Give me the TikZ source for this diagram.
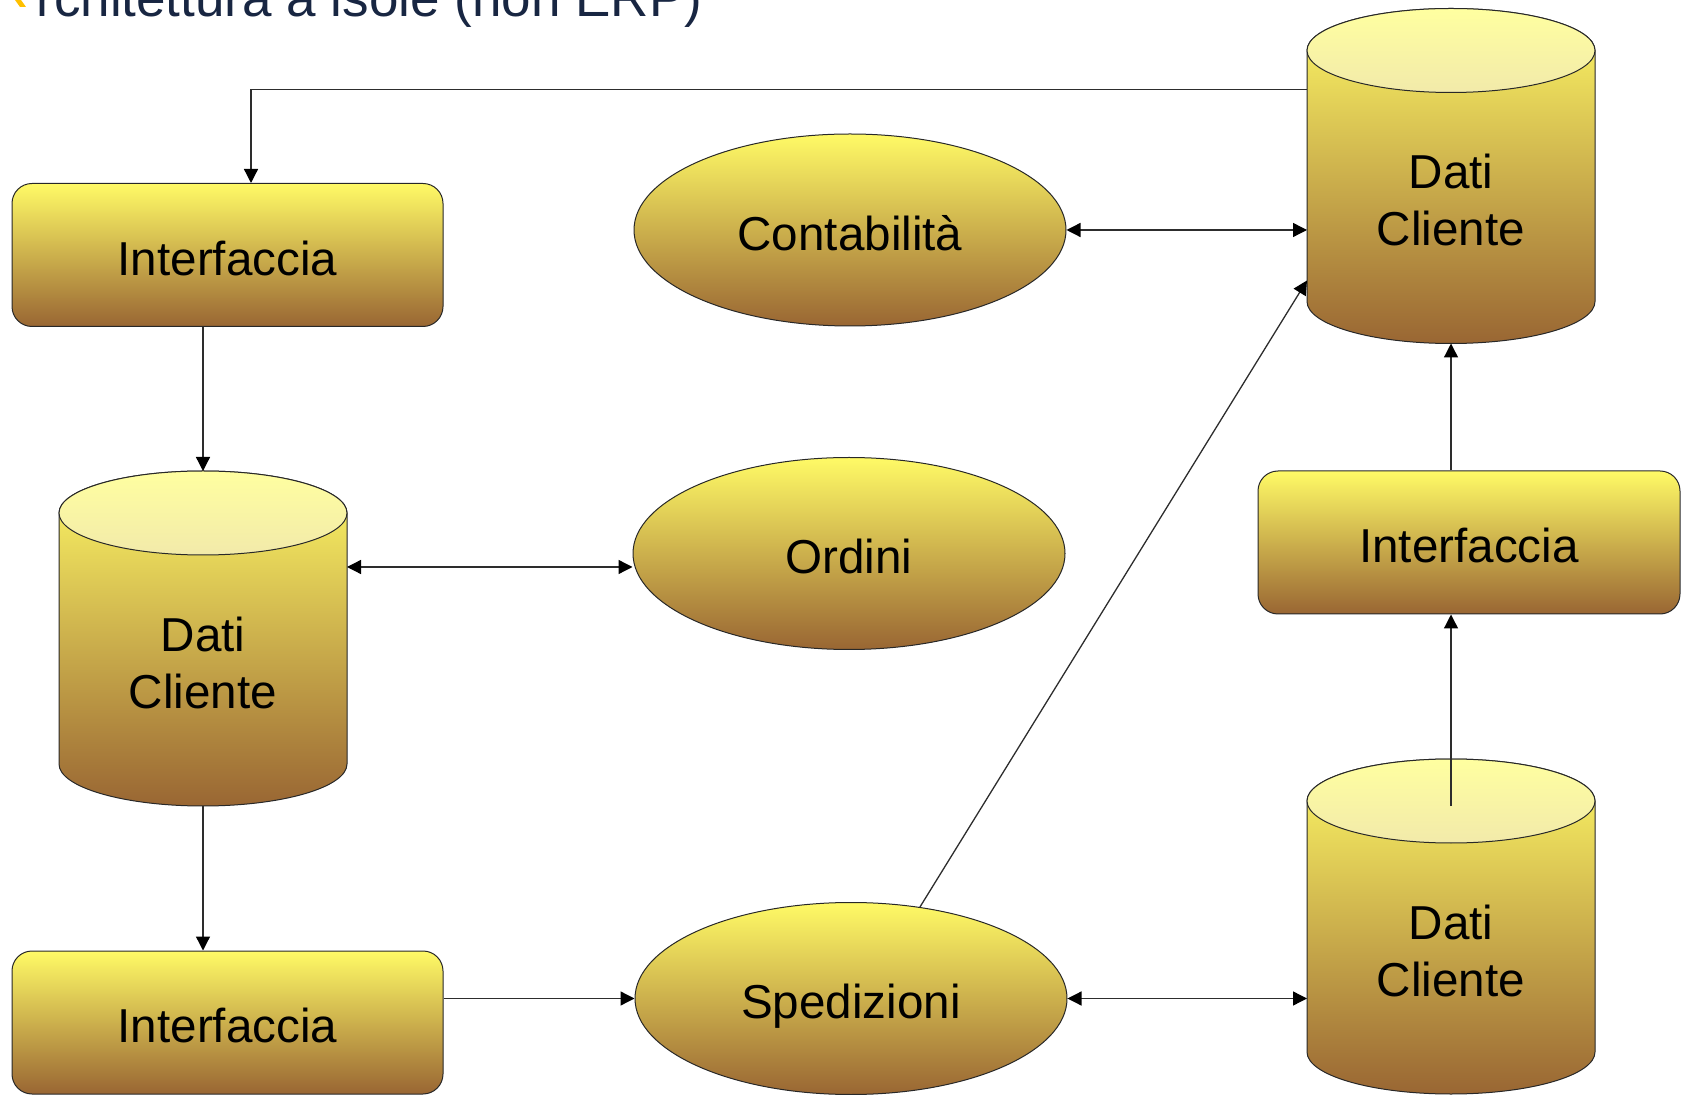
\documentclass[tikz,border=0pt]{standalone}
\usepackage{fontspec}
\setmainfont{Liberation Sans}
\usetikzlibrary{shapes.geometric,arrows.meta,calc}
\definecolor{ytop}{RGB}{255,250,102}
\definecolor{ybot}{RGB}{153,102,51}
\definecolor{lidtop}{RGB}{255,255,160}
\definecolor{lidbot}{RGB}{242,234,170}
\definecolor{edgecol}{RGB}{40,40,40}
\definecolor{linecol}{RGB}{45,45,45}
\definecolor{titlecol}{RGB}{24,38,66}
\definecolor{bulletcol}{RGB}{255,192,0}
\tikzset{
  lbl/.style={font=\fontsize{23.8}{28.5}\selectfont, text=black},
  ifbox/.style={lbl, text height=20.4pt, text depth=0pt, draw=edgecol, line width=0.5pt, rounded corners=10pt,
     top color=ytop, bottom color=ybot, inner sep=0pt, minimum height=71.5pt},
  proc/.style={lbl, text height=20.4pt, text depth=0pt, ellipse, draw=edgecol, line width=0.5pt, top color=ytop,
     bottom color=ybot, inner sep=0pt, minimum width=216pt, minimum height=96pt},
  conn/.style={draw=linecol, line width=0.65pt},
  tip/.tip={Triangle[length=7pt,width=7pt,color=black]}
}
\newcommand\dbcyl[4]{%
  \node[minimum width=144pt, minimum height=167.5pt, inner sep=0pt, outer sep=0pt] (#1) at (#2,#3) {};
  \shade[top color=ytop, bottom color=ybot, draw=edgecol, line width=0.5pt]
    ($(#1.north west)+(0,-42)$) -- ($(#1.south west)+(0,42)$)
    arc[start angle=180, end angle=360, x radius=144, y radius=42]
    -- ($(#1.north east)+(0,-42)$)
    arc[start angle=0, end angle=180, x radius=144, y radius=42] -- cycle;
  \shade[top color=lidtop, bottom color=lidbot, draw=edgecol, line width=0.5pt]
    ($(#1.north)+(0,-42)$) ellipse[x radius=144, y radius=42];
  \node[lbl, align=center] (#1t) at ($(#1.center)+(0,-24)$) {#4};
}
\begin{document}
\begin{tikzpicture}[x=0.5pt,y=0.5pt]
\useasboundingbox (0,0) rectangle (1681,-1095);
% title (cut at top, as in the reference)
\fill[bulletcol] (15,0) -- (21,0) -- (26,-7) -- (20,-7) -- cycle;
\node[anchor=base west, inner sep=0pt, font=\fontsize{26.5}{30}\selectfont, text=titlecol] (title) at (36,-17) {rchitettura a isole (non ERP)};

% interfaces
\node[ifbox, minimum width=215.5pt] (ifA) at (227.5,-255) {Interfaccia};
\node[ifbox, minimum width=215.5pt] (ifB) at (227.5,-1022.5) {Interfaccia};
\node[ifbox, minimum width=211pt] (ifC) at (1469,-542.5) {Interfaccia};

% processes
\node[proc] (contab) at (850,-230) {Contabilità};
\node[proc] (ordini) at (849,-553.5) {Ordini};
\node[proc] (sped) at (851,-998.5) {Spedizioni};

% databases
\dbcyl{dcB}{203}{-638.5}{Dati\\Cliente}
\dbcyl{dcA}{1451}{-176}{Dati\\Cliente}
\dbcyl{dcC}{1451}{-926.5}{Dati\\Cliente}

% connectors
\draw[conn,-tip] ($(dcA.north west)+(0,-81)$) -| ($(ifA.north)+(23.5,0)$);
\draw[conn,-tip] (ifA.south -| dcB.north) -- (dcB.north);
\path ($(dcB.north east)+(0,-96)$) coordinate (a3);
\draw[conn,tip-tip] (a3) -- (a3 -| ordini.west);
\draw[conn,tip-tip] (contab.east) -- (contab.east -| dcA.west);
\draw[conn,-tip] (ifC.north -| dcA.south) -- (dcA.south);
\draw[conn,-tip] ($(dcC.north)+(0,-47)$) -- (dcC.north |- ifC.south);
\draw[conn,-tip] (dcB.south) -- (dcB.south |- ifB.north);
\draw[conn,-tip] (ifB.east |- sped.west) -- (sped.west);
\draw[conn,tip-tip] (sped.east) -- (sped.east -| dcC.west);
\draw[conn,-tip] (sped.53) -- ($(dcA.south west)+(0,63)$);
\end{tikzpicture}
\end{document}
